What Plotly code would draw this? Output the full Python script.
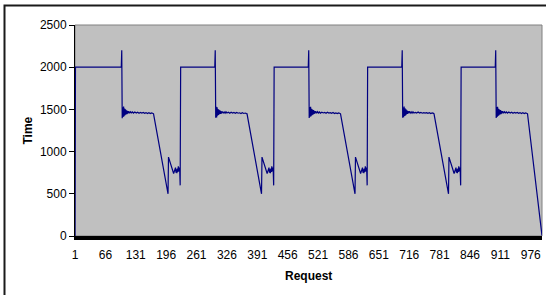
import plotly.graph_objects as go

# ---------------- data ----------------
# x-axis category labels (every 65th request)
x_tick_vals = [1, 66, 131, 196, 261, 326, 391, 456, 521, 586, 651, 716, 781, 846, 911, 976]
y_tick_vals = [0, 500, 1000, 1500, 2000, 2500]

# first request of each 200-request cycle (minus one)
cycle_offset = [0, 200, 400, 600, 800]

# level of the flat phase and the spike that ends it
plateau_level = 2000
spike_level = 2200

# noisy ~1455 phase right after the spike (request offset inside a cycle)
noise_req = [102, 103, 104, 105, 106, 107, 108, 109, 110, 111, 112, 113, 114, 116, 118,
             120, 122, 124, 126, 129, 132, 135, 138, 141, 144, 147, 150, 153, 156, 159,
             162, 165, 168]
noise_c1 = [1395, 1525, 1410, 1535, 1420, 1510, 1430, 1500, 1440, 1490, 1445, 1482, 1452, 1478, 1455,
            1472, 1458, 1470, 1456, 1468, 1457, 1466, 1455, 1465, 1456, 1463, 1454, 1462, 1452, 1460,
            1450, 1458, 1452]
noise_c2 = [1400, 1530, 1405, 1525, 1425, 1505, 1435, 1495, 1442, 1488, 1448, 1480, 1450, 1476, 1457,
            1470, 1455, 1471, 1458, 1466, 1455, 1467, 1457, 1463, 1454, 1464, 1455, 1460, 1451, 1461,
            1452, 1457, 1450]
noise_c3 = [1398, 1528, 1412, 1530, 1418, 1508, 1432, 1498, 1438, 1492, 1446, 1484, 1451, 1477, 1454,
            1473, 1457, 1469, 1455, 1467, 1458, 1465, 1454, 1466, 1457, 1462, 1453, 1463, 1451, 1459,
            1451, 1459, 1451]
noise_c4 = [1402, 1522, 1408, 1533, 1422, 1512, 1428, 1502, 1441, 1489, 1447, 1481, 1453, 1479, 1456,
            1471, 1456, 1472, 1457, 1465, 1456, 1468, 1456, 1464, 1455, 1462, 1456, 1461, 1453, 1460,
            1450, 1458, 1453]
noise_c5 = [1397, 1527, 1411, 1532, 1421, 1507, 1431, 1499, 1439, 1491, 1444, 1483, 1452, 1478, 1455,
            1472, 1458, 1470, 1455, 1468, 1457, 1466, 1454, 1465, 1456, 1463, 1454, 1462, 1452, 1460,
            1451, 1458, 1452]
noise_cycles = [noise_c1, noise_c2, noise_c3, noise_c4, noise_c5]

# linear fall after the noisy phase
fall_req = [169, 200]
fall_time = [1448, 500]
last_fall_time = [1448, 5]      # the final cycle falls to ~0 at request 1000

# dip / zig-zag before the climb back to 2000
dip_req = [201, 212, 214, 216, 217, 218, 219, 220, 221, 222, 223, 224, 225, 226, 227]
dip_time = [935, 740, 770, 810, 750, 790, 745, 800, 760, 825, 765, 810, 780, 600, 2000]

first_req = [1, 2]
first_time = [0, 2000]

# ---------------- build the series ----------------
req = list(first_req)
tim = list(first_time)
for k, off in enumerate(cycle_offset):
    req += [off + 100, off + 101]
    tim += [plateau_level, spike_level]
    req += [off + r for r in noise_req]
    tim += noise_cycles[k]
    req += [off + r for r in fall_req]
    tim += (last_fall_time if k == len(cycle_offset) - 1 else fall_time)
    if k < len(cycle_offset) - 1:
        req += [off + r for r in dip_req]
        tim += dip_time

FONT = "Liberation Sans, Arial, sans-serif"

fig = go.Figure()
fig.add_trace(go.Scatter(x=req, y=tim, mode="lines",
                         line=dict(color="#000080", width=1.2),
                         hoverinfo="skip", showlegend=False))

PH = 295 - 25 - 59  # plot height in px

fig.update_layout(
    width=546, height=295,
    margin=dict(l=75, r=4, t=25, b=59, pad=0),
    paper_bgcolor="white",
    plot_bgcolor="#C0C0C0",
    font=dict(family=FONT, size=12, color="black"),
    showlegend=False,
    xaxis=dict(range=[1, 1000], tickmode="array", tickvals=x_tick_vals,
               ticktext=[str(v) for v in x_tick_vals],
               showgrid=False, zeroline=False, showline=True,
               linecolor="black", linewidth=4, ticks="outside", ticklen=5,
               tickcolor="rgba(0,0,0,0)", tickfont=dict(size=12, family=FONT)),
    yaxis=dict(range=[0, 2500], tickmode="array", tickvals=y_tick_vals,
               showgrid=False, zeroline=False, showline=True,
               linecolor="black", linewidth=1, ticks="outside", ticklen=5,
               tickcolor="black", tickfont=dict(size=12, family=FONT)),
    shapes=[
        dict(type="rect", xref="paper", yref="paper", x0=0, x1=1, y0=0, y1=1,
             line=dict(color="#808080", width=1), layer="below"),
        dict(type="rect", xref="paper", yref="paper",
             x0=-70.5 / 467, x1=1.2, y0=-0.4, y1=(PH + 25 - 5.5) / PH,
             line=dict(color="#1a1a1a", width=2)),
    ],
    annotations=[
        dict(text="<b>Time</b>", xref="paper", yref="paper", x=0, y=0.5,
             xanchor="center", yanchor="middle", xshift=-48, textangle=-90,
             showarrow=False, font=dict(size=12, family=FONT)),
        dict(text="<b>Request</b>", xref="paper", yref="paper", x=0.5, y=0,
             xanchor="center", yanchor="middle", yshift=-40,
             showarrow=False, font=dict(size=12, family=FONT)),
    ],
)

fig.write_html("out.html", config={"displayModeBar": False, "staticPlot": True},
               post_script="document.body.style.margin='0';document.body.style.overflow='hidden';")
